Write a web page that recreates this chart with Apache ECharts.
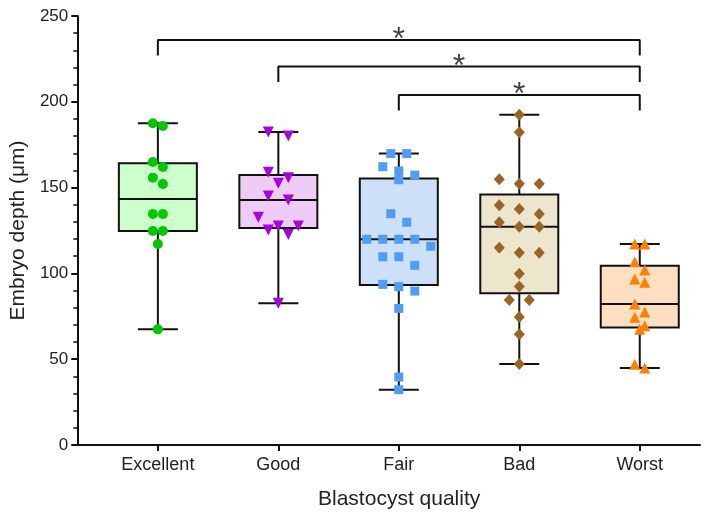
<!DOCTYPE html>
<html>
<head>
<meta charset="utf-8">
<script src="https://cdn.jsdelivr.net/npm/echarts@6/dist/echarts.min.js"></script>
<style>html,body{margin:0;padding:0;background:#fff}#c{width:712px;height:516px}</style>
</head>
<body>
<div id="c"></div>
<script>
// ---- data ----
const categories = ['Excellent', 'Good', 'Fair', 'Bad', 'Worst'];
const excellent = [187.5, 185.9, 164.9, 162.0, 155.8, 152.1, 134.6, 134.6, 124.7, 124.7, 117.1, 67.4];
const good = [182.4, 180.1, 159.0, 155.8, 152.5, 145.1, 142.8, 132.7, 127.6, 127.6, 125.3, 122.6, 82.6];
const fair = [169.8, 169.8, 162.2, 159.7, 157.3, 154.6, 134.8, 129.8, 119.9, 119.9, 119.9, 119.9, 115.8, 109.7, 109.7, 104.7, 93.6, 92.3, 89.7, 79.6, 39.6, 32.2];
const bad = [192.5, 182.2, 154.8, 152.3, 152.3, 139.7, 137.5, 134.6, 129.8, 127.2, 127.2, 115.0, 112.1, 112.1, 99.8, 92.3, 84.5, 84.5, 74.6, 64.5, 47.2];
const worst = [117.1, 117.1, 106.8, 102.0, 96.7, 94.8, 82.2, 77.5, 74.4, 69.5, 67.4, 47.0, 44.9];
const yMin = 0, yMax = 250, yInterval = 50;
// significance brackets (category index from/to, level in µm)
const bracketFrom = [0, 1, 2];
const bracketTo = [4, 4, 4];
const bracketLevel = [236, 220.5, 204];
const bracketMark = ['*', '*', '*'];

// ---- style ----
const groups = [excellent, good, fair, bad, worst];
const pointColors = ['#00c800', '#a800e0', '#4f9ef5', '#9a6424', '#ff8000'];
const boxFills = ['#ccffcc', '#eeccf6', '#cce0f7', '#ece6cc', '#ffdfc2'];
const symbols = ['circle', 'triangle', 'rect', 'diamond', 'triangle'];
const symbolRot = [0, 180, 0, 0, 0];
const symbolSizes = [10, 11, 9, [11, 12], 11];
const jitterPx = [10, 20, 16, 20, 10];
const FONT = "'Liberation Sans', Arial, sans-serif";
const gridL = 77, gridR = 12, gridT = 16, gridB = 71;
const xMin = -0.669, xMax = 4.5;
const unitPx = (712 - gridL - gridR) / (xMax - xMin);
const rowTol = 5.2;
const bracketDrop = 9;

// quartiles, (n+1)p method
function quant(sorted, p) {
  const n = sorted.length;
  let pos = (n + 1) * p;
  if (pos < 1) pos = 1;
  if (pos > n) pos = n;
  const lo = Math.floor(pos), hi = Math.ceil(pos);
  return sorted[lo - 1] + (pos - lo) * (sorted[hi - 1] - sorted[lo - 1]);
}
const boxData = groups.map((g, i) => {
  const s = g.slice().sort((a, b) => a - b);
  return [i, s[0], quant(s, 0.25), quant(s, 0.5), quant(s, 0.75), s[s.length - 1]];
});

// row-grouped horizontal spread of points
function spread(vals, i) {
  const sorted = vals.slice().sort((a, b) => b - a);
  const out = [];
  let row = [];
  const flush = () => {
    const n = row.length;
    row.forEach((v, k) => out.push([i + (k - (n - 1) / 2) * jitterPx[i] / unitPx, v]));
    row = [];
  };
  sorted.forEach(v => {
    if (row.length && row[0] - v > rowTol) flush();
    row.push(v);
  });
  flush();
  return out;
}

const series = [];
series.push({
  type: 'custom',
  z: 2,
  data: boxData,
  renderItem: function (params, api) {
    const x = api.value(0);
    const p = [1, 2, 3, 4, 5].map(k => api.coord([x, api.value(k)]));
    const cx = p[0][0];
    const hw = 39, cw = 20;
    const st = { stroke: '#111', lineWidth: 2 };
    return {
      type: 'group',
      children: [
        { type: 'line', shape: { x1: cx, y1: p[0][1], x2: cx, y2: p[4][1] }, style: st },
        { type: 'line', shape: { x1: cx - cw, y1: p[0][1], x2: cx + cw, y2: p[0][1] }, style: st },
        { type: 'line', shape: { x1: cx - cw, y1: p[4][1], x2: cx + cw, y2: p[4][1] }, style: st },
        { type: 'rect', shape: { x: cx - hw, y: p[3][1], width: 2 * hw, height: p[1][1] - p[3][1] }, style: { fill: boxFills[params.dataIndex], stroke: '#111', lineWidth: 2 } },
        { type: 'line', shape: { x1: cx - hw, y1: p[2][1], x2: cx + hw, y2: p[2][1] }, style: st }
      ]
    };
  }
});
groups.forEach((g, i) => {
  series.push({
    type: 'scatter',
    name: categories[i],
    z: 5,
    symbol: symbols[i],
    symbolRotate: symbolRot[i],
    symbolSize: symbolSizes[i],
    itemStyle: { color: pointColors[i], opacity: 1 },
    data: spread(g, i)
  });
});
bracketFrom.forEach((f, k) => {
  const t = bracketTo[k], lv = bracketLevel[k];
  series.push({
    type: 'line',
    z: 4,
    symbol: 'none',
    lineStyle: { color: '#111', width: 2 },
    data: [[f, lv - bracketDrop], [f, lv], [t, lv], [t, lv - bracketDrop]],
    silent: true
  });
  series.push({
    type: 'scatter',
    z: 4,
    symbolSize: 1,
    itemStyle: { color: 'rgba(0,0,0,0)' },
    label: { show: true, formatter: bracketMark[k], position: 'top', distance: -17, fontSize: 32, fontFamily: FONT, color: '#111' },
    data: [[(f + t) / 2, lv]]
  });
});

const chart = echarts.init(document.getElementById('c'), null, { renderer: 'canvas' });
chart.setOption({
  animation: false,
  backgroundColor: '#fff',
  grid: { left: gridL, right: gridR, top: gridT, bottom: gridB },
  xAxis: {
    type: 'value',
    min: xMin, max: xMax,
    name: 'Blastocyst quality',
    nameLocation: 'middle',
    nameGap: 44,
    nameTextStyle: { fontSize: 21, fontFamily: FONT, color: '#222', padding: [0, 0, 0, 21] },
    axisLine: { show: true, onZero: false, lineStyle: { color: '#111', width: 2 } },
    axisTick: { show: true, length: 6, lineStyle: { color: '#111', width: 2 }, customValues: [0, 1, 2, 3, 4] },
    axisLabel: { fontSize: 18, fontFamily: FONT, color: '#222', margin: 11, customValues: [0, 1, 2, 3, 4], formatter: v => categories[Math.round(v)] },
    splitLine: { show: false }
  },
  yAxis: {
    type: 'value',
    min: yMin, max: yMax, interval: yInterval,
    name: 'Embryo depth (μm)',
    nameLocation: 'middle',
    nameGap: 46,
    nameTextStyle: { fontSize: 21, fontFamily: FONT, color: '#222' },
    axisLine: { show: true, onZero: false, lineStyle: { color: '#111', width: 2 } },
    axisTick: { show: true, length: 6, lineStyle: { color: '#111', width: 2 } },
    minorTick: { show: true, splitNumber: 5, length: 4, lineStyle: { color: '#111', width: 1.5 } },
    axisLabel: { fontSize: 17, fontFamily: FONT, color: '#222', margin: 9 },
    splitLine: { show: false }
  },
  series: series
});
</script>
</body>
</html>
